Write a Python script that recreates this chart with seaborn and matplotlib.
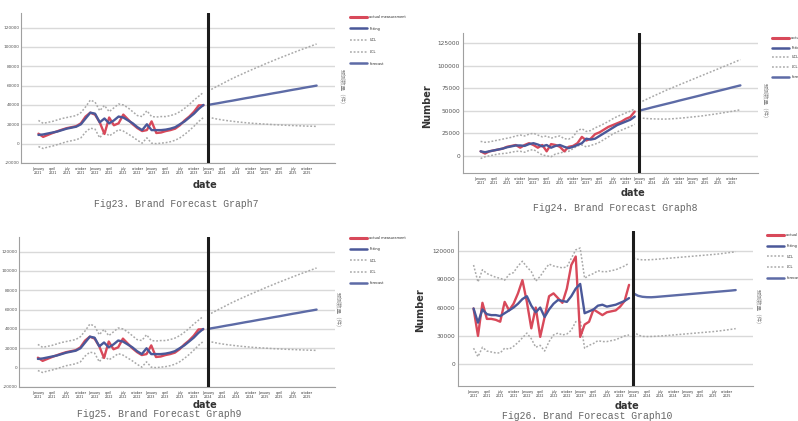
import numpy as np
import pandas as pd
import matplotlib
matplotlib.use("Agg")
import matplotlib.pyplot as plt
import seaborn as sns
from matplotlib.lines import Line2D

sns.set_theme(style="white")
plt.rcParams['font.family'] = ['DejaVu Sans', 'Noto Sans CJK SC']

# ---------------- data (values in thousands) ----------------
month_names = ["January", "april", "july", "october"]
years = ["2021", "2022", "2023", "2024", "2025"]
legend_labels = ["actual measurement", "fitting", "UCL", "LCL", "forecast"]
captions = ["Fig23. Brand Forecast Graph7", "Fig24. Brand Forecast Graph8",
            "Fig25. Brand Forecast Graph9", "Fig26. Brand Forecast Graph10"]

# Graph7 (same series appear in Graph9)
g7_actual = [10.3, 7, 9, 11, 12.8, 14.5, 16, 17, 18, 21, 28, 32, 30, 22, 10, 27, 19, 21,
             30, 25, 20, 16, 13, 14, 23, 11, 11.5, 13, 14, 15.5, 19, 24, 28, 33, 39.5, 39.6]
g7_fit = [9, 9.5, 10.5, 11.5, 12.5, 14, 15.5, 16.5, 17.5, 20, 26, 32, 31, 22, 26, 21, 24, 28,
          27, 24, 21, 17, 14, 20, 14, 14, 14, 14.5, 15.5, 17, 20, 23, 27, 31, 36, 40]
g7_ucl = [24, 21, 22, 23, 24.5, 26, 27, 28, 29, 32, 38, 45, 43, 34, 39.5, 33, 37, 41,
          40, 37, 33, 29, 28, 34, 28, 27.5, 28, 28, 29, 30.5, 33, 36.5, 40.5, 45, 49, 53]
g7_lcl = [-3, -5, -3.5, -2.5, -1, 0.5, 2, 3, 4, 6, 12, 16, 15, 6, 12.5, 8, 11, 14.5,
          13, 10, 7, 3.5, 0.5, 6, 0.5, 0, 0.5, 1, 2, 3.5, 6, 9.5, 13.5, 18, 23, 27]
g7_fc = [40.0, 40.9, 41.7, 42.6, 43.5, 44.3, 45.2, 46.1, 47.0, 47.8, 48.7, 49.6,
         50.4, 51.3, 52.2, 53.0, 53.9, 54.8, 55.7, 56.5, 57.4, 58.3, 59.1, 60.0]
g7_fc_ucl = [54, 57, 59.5, 62, 64.5, 67, 69.3, 71.5, 73.7, 75.9, 78, 80.1,
             82.2, 84.2, 86.2, 88.2, 90.1, 92, 93.9, 95.8, 97.6, 99.4, 101.2, 103]
g7_fc_lcl = [27.5, 26.3, 25.3, 24.5, 23.8, 23.2, 22.6, 22.1, 21.6, 21.2, 20.8, 20.5,
             20.2, 19.9, 19.6, 19.4, 19.1, 18.9, 18.7, 18.5, 18.3, 18.1, 18, 17.8]

# Graph8
g8_actual = [5, 2.5, 5, 6, 7, 8, 10, 11, 12, 9, 12, 14, 12, 9, 12, 5, 13, 12,
             10, 5, 10, 11, 14, 21, 17, 19, 24, 26, 29, 32, 34, 36, 38, 41, 43, 49]
g8_fit = [5, 4, 5, 6, 7, 8, 9.5, 10.5, 11.5, 11.5, 11, 13, 14, 12.5, 10.5, 12, 9, 11,
          12, 10, 8.5, 10, 12, 14, 19, 18, 19, 22, 25, 28, 31, 34, 36, 38, 40, 43.5]
g8_ucl = [16, 15, 15.5, 16.5, 17.5, 18.5, 19.5, 20.5, 22, 23, 22, 24, 25, 23, 21, 22, 19.5, 21,
          22, 19, 18.5, 21, 28, 30, 27, 28, 31, 33, 35.5, 38, 41, 43.5, 45.5, 47.5, 49.5, 52]
g8_lcl = [-3, -1, 0, 1, 2, 2.5, 3, 4, 5, 5, 4, 6, 7, 4, 1, 0, -1, 2,
          3, 4.5, 5, 8, 11, 12, 10, 11.5, 13, 15, 18, 21, 24, 26.5, 28.5, 30.5, 32.5, 35]
g8_fc = [50, 51.2, 52.4, 53.7, 54.9, 56.1, 57.3, 58.5, 59.7, 61, 62.2, 63.4,
         64.6, 65.8, 67, 68.3, 69.5, 70.7, 71.9, 73.1, 74.3, 75.6, 76.8, 78]
g8_fc_ucl = [58.5, 61, 63.3, 65.6, 67.8, 70, 72.3, 74.4, 76.4, 78.4, 80.4, 82.4,
             84.4, 86.4, 88.4, 90.4, 92.4, 94.4, 96.4, 98.4, 100.4, 102.4, 104.5, 106.5]
g8_fc_lcl = [42, 41.6, 41.2, 41, 40.8, 40.7, 40.7, 40.9, 41.2, 41.6, 42, 42.5,
             43, 43.5, 44, 44.7, 45.4, 46.1, 46.8, 47.6, 48.4, 49.2, 50.1, 51]

# Graph9 (same as Graph7)
g9_actual, g9_fit, g9_ucl, g9_lcl = g7_actual, g7_fit, g7_ucl, g7_lcl
g9_fc, g9_fc_ucl, g9_fc_lcl = g7_fc, g7_fc_ucl, g7_fc_lcl

# Graph10
g10_actual = [59, 30, 65, 48, 48, 47, 45, 66, 57, 64, 75, 89, 66, 38, 60, 29, 50, 72,
              75, 70, 65, 80, 105, 114, 29, 42, 45, 58, 55, 52, 55, 56, 57, 61, 67, 84]
g10_fit = [59, 44, 58, 53, 52, 52, 51, 54, 57, 60, 64, 69, 72, 62, 55, 60, 50, 58,
           64, 68, 67, 66, 72, 80, 85, 54, 56, 58, 62, 63, 61, 62, 63, 65, 67, 70]
g10_ucl = [105, 87, 100, 96, 94, 92, 91, 89, 95, 97, 104, 109, 103, 98, 88, 93, 100, 106,
           104, 103, 102, 103, 112, 121, 123, 91, 94, 96, 99, 98, 98, 99, 100, 102, 104, 107]
g10_lcl = [17, 8, 18, 14, 13, 12, 12, 17, 16, 19, 23, 28, 33, 27, 18, 20, 14, 24,
           31, 33, 31, 32, 36, 45, 47, 17, 20, 22, 25, 24, 24, 25, 26, 28, 30, 31]
g10_fc = [75, 72.5, 71.4, 71, 70.9, 71.2, 71.6, 72, 72.4, 72.8, 73.2, 73.6,
          74, 74.4, 74.8, 75.2, 75.6, 76, 76.4, 76.8, 77.2, 77.6, 78, 78.5]
g10_fc_ucl = [112.5, 111, 110.5, 110.5, 110.7, 111, 111.4, 111.8, 112.2, 112.6, 113, 113.4,
              113.8, 114.2, 114.6, 115, 115.4, 115.8, 116.2, 116.6, 117.2, 117.8, 118.4, 119]
g10_fc_lcl = [35, 31, 29.5, 29.3, 29.4, 29.6, 29.9, 30.2, 30.6, 31, 31.4, 31.8,
              32.2, 32.6, 33, 33.4, 33.8, 34.2, 34.6, 35.1, 35.7, 36.3, 37, 37.7]

y_ticks_7 = [-20000, 0, 20000, 40000, 60000, 80000, 100000, 120000]
y_ticks_8 = [0, 25000, 50000, 75000, 100000, 125000]
y_ticks_10 = [0, 30000, 60000, 90000, 120000]

# ---------------- styles ----------------
C_ACT = "#d8495a"
C_FIT = "#4a5899"
C_FC = "#5d6ba6"
C_CL = "#a9a9a9"
DOT = (0, (1.2, 1.2))

W, H = 798, 421
fig = plt.figure(figsize=(W / 100, H / 100), dpi=100)
fig.patch.set_facecolor("white")


def rect(l, r, t, b):
    return [l / W, 1 - b / H, (r - l) / W, (b - t) / H]


def ftext(x, y, s, **kw):
    fig.text(x / W, 1 - y / H, s, **kw)


def panel(pos, xlim, ylim, yticks, series, legend_xy, date_xy, cap_xy, caption,
          side_xy, number_xy=None, ytick_fs=4.2, ytick_pad=2, leg_sp=2.1):
    actual, fit, ucl, lcl, fc, fc_ucl, fc_lcl = series
    ax = fig.add_axes(rect(*pos))
    n = len(actual)
    hist = pd.DataFrame({"t": np.arange(n),
                         "actual": np.array(actual) * 1000,
                         "fit": np.array(fit) * 1000,
                         "ucl": np.array(ucl) * 1000,
                         "lcl": np.array(lcl) * 1000})
    fut = pd.DataFrame({"t": np.arange(n, n + len(fc)),
                        "fc": np.array(fc) * 1000,
                        "ucl": np.array(fc_ucl) * 1000,
                        "lcl": np.array(fc_lcl) * 1000})
    for y in yticks:
        ax.axhline(y, color="#d9d9d9", lw=1.0, zorder=0)
    sns.lineplot(data=hist, x="t", y="ucl", ax=ax, color=C_CL, lw=1.1, linestyle=DOT)
    sns.lineplot(data=hist, x="t", y="lcl", ax=ax, color=C_CL, lw=1.1, linestyle=DOT)
    sns.lineplot(data=fut, x="t", y="ucl", ax=ax, color=C_CL, lw=1.1, linestyle=DOT)
    sns.lineplot(data=fut, x="t", y="lcl", ax=ax, color=C_CL, lw=1.1, linestyle=DOT)
    sns.lineplot(data=hist, x="t", y="actual", ax=ax, color=C_ACT, lw=1.7)
    sns.lineplot(data=hist, x="t", y="fit", ax=ax, color=C_FIT, lw=1.7)
    sns.lineplot(data=fut, x="t", y="fc", ax=ax, color=C_FC, lw=1.7)
    ax.axvline(n, color="#1c1c1c", lw=2.2, zorder=5)
    ax.set_xlim(*xlim)
    ax.set_ylim(*ylim)
    ax.set_yticks(yticks)
    ax.set_yticklabels([str(v) for v in yticks], fontsize=ytick_fs, color="#555555")
    xt = list(range(0, 60, 3))
    ax.set_xticks(xt)
    ax.set_xticklabels([f"{month_names[(t // 3) % 4]}\n{years[t // 12]}" for t in xt],
                       fontsize=2.3, color="#333333", linespacing=0.9)
    ax.tick_params(axis="x", length=0, pad=3)
    ax.tick_params(axis="y", length=0, pad=ytick_pad)
    ax.set_xlabel("")
    ax.set_ylabel("")
    for s in ["top", "right"]:
        ax.spines[s].set_visible(False)
    for s in ["left", "bottom"]:
        ax.spines[s].set_color("#a0a0a0")
        ax.spines[s].set_linewidth(0.8)
    handles = [Line2D([], [], color=C_ACT, lw=2.2),
               Line2D([], [], color=C_FIT, lw=1.8),
               Line2D([], [], color=C_CL, lw=1.1, linestyle=DOT),
               Line2D([], [], color=C_CL, lw=1.1, linestyle=DOT),
               Line2D([], [], color=C_FC, lw=1.8)]
    lx, ly = legend_xy
    ax.legend(handles, legend_labels, loc="upper left",
              bbox_to_anchor=(lx / W, 1 - ly / H), bbox_transform=fig.transFigure,
              frameon=False, fontsize=2.5, handlelength=5, labelspacing=leg_sp,
              handletextpad=0.6, borderpad=0, borderaxespad=0)
    ftext(*date_xy, "date", fontsize=7, fontweight="bold", color="#333333",
          ha="center", va="center")
    ftext(*cap_xy, caption, fontsize=7, family="Liberation Mono", color="#666666",
          ha="center", va="center")
    ftext(*side_xy, "预测数量（件）", fontsize=4, rotation=270, color="#8a8a8a",
          ha="center", va="center", family=["Noto Sans CJK SC", "DejaVu Sans"])
    if number_xy is not None:
        ftext(*number_xy, "Number", fontsize=7, fontweight="bold", rotation=90,
              color="#333333", ha="center", va="center")
    return ax


panel((21, 335, 13, 163), (-3.7, 62.9), (-20000, 135000), y_ticks_7,
      (g7_actual, g7_fit, g7_ucl, g7_lcl, g7_fc, g7_fc_ucl, g7_fc_lcl),
      (350, 15), (205, 185), (176, 204), captions[0], (342, 88),
      ytick_fs=3.1, ytick_pad=1, leg_sp=2.2)
panel((463, 758, 33, 173), (-4.0, 63.0), (-19000, 136000), y_ticks_8,
      (g8_actual, g8_fit, g8_ucl, g8_lcl, g8_fc, g8_fc_ucl, g8_fc_lcl),
      (772, 36), (633, 193), (615, 208), captions[1], (765, 102), (427, 106),
      leg_sp=1.65)
panel((19, 335, 237, 387), (-4.0, 62.9), (-20000, 135000), y_ticks_7,
      (g9_actual, g9_fit, g9_ucl, g9_lcl, g9_fc, g9_fc_ucl, g9_fc_lcl),
      (350, 236), (205, 405), (159, 414), captions[2], (338, 311),
      ytick_fs=3.1, ytick_pad=1, leg_sp=2.1)
panel((458, 753, 231, 386), (-3.5, 62.9), (-23000, 141000), y_ticks_10,
      (g10_actual, g10_fit, g10_ucl, g10_lcl, g10_fc, g10_fc_ucl, g10_fc_lcl),
      (767, 233), (627, 406), (587, 416), captions[3], (758, 308), (420, 310),
      leg_sp=1.95)

fig.savefig("out.png", dpi=100, facecolor="white")
